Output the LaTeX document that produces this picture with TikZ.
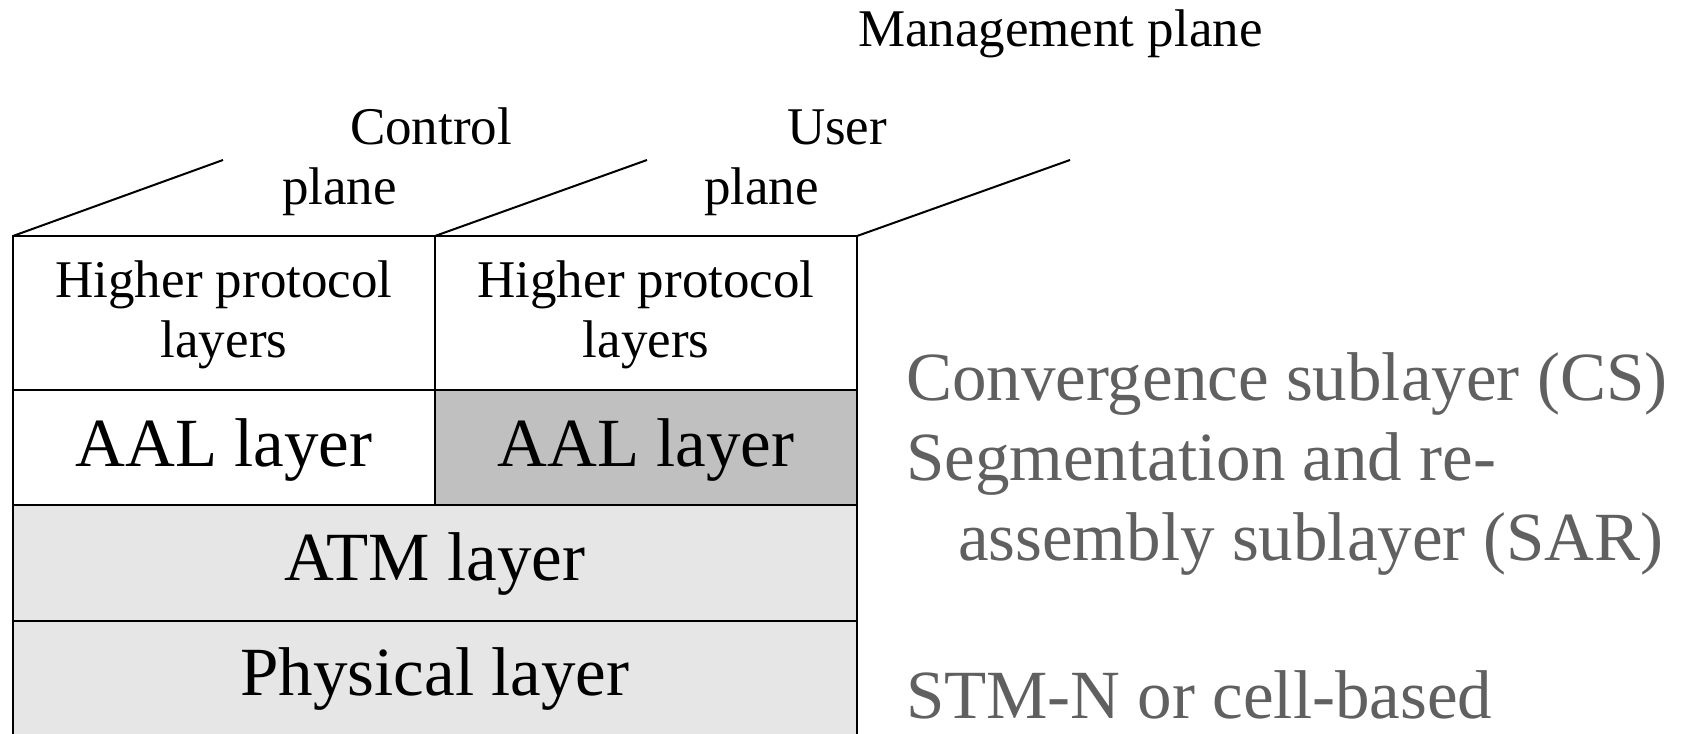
\documentclass[tikz,border=0pt]{standalone}
\usepackage{fontspec}
\setmainfont{Liberation Serif}
\definecolor{graytxt}{HTML}{606060}
\definecolor{aalfill}{HTML}{C0C0C0}
\definecolor{lowfill}{HTML}{E6E6E6}
\begin{document}
\begin{tikzpicture}[x=0.5pt,y=-0.5pt,line width=1pt,
  cell/.style={draw=black,line width=1pt,inner sep=0pt,outer sep=0pt},
  small/.style={inner sep=0pt,anchor=base,font=\fontsize{26.5}{31}\selectfont},
  smallw/.style={inner sep=0pt,anchor=base west,font=\fontsize{26.5}{31}\selectfont},
  big/.style={inner sep=0pt,anchor=base,font=\fontsize{34.5}{40}\selectfont},
  side/.style={inner sep=0pt,anchor=base west,text=graytxt,font=\fontsize{34.5}{40}\selectfont}]
\useasboundingbox (0,0) rectangle (1684,733);
\clip (0,0) rectangle (1684,733);
% cells
\node[cell,minimum width=211pt,minimum height=77pt] (hc) at (224,313) {};
\node[cell,minimum width=211pt,minimum height=77pt] (hu) at (646,313) {};
\node[cell,minimum width=211pt,minimum height=57.5pt] (ac) at (224,447.5) {};
\node[cell,fill=aalfill,minimum width=211pt,minimum height=57.5pt] (au) at (646,447.5) {};
\node[cell,fill=lowfill,minimum width=422pt,minimum height=58pt] (atm) at (435,563) {};
\node[cell,fill=lowfill,minimum width=422pt,minimum height=75pt] (phy) at (435,696) {};
% perspective lines
\coordinate (d1) at (223,160);
\coordinate (d2) at (647,160);
\coordinate (d3) at (1070,160);
\draw (hc.north west) -- (d1);
\draw (hu.north west) -- (d2);
\draw (hu.north east) -- (d3);
% texts in cells
\node[small] (hct1) at (224,297) {Higher protocol};
\node[small] (hct2) at (224,357) {layers};
\node[small] (hut1) at (646,297) {Higher protocol};
\node[small] (hut2) at (646,357) {layers};
\node[big] (act) at (224,466) {AAL layer};
\node[big] (aut) at (646,466) {AAL layer};
\node[big] (atmt) at (435,580) {ATM layer};
\node[big] (phyt) at (435,695) {Physical layer};
% plane labels
\node[smallw] (mp) at (857,47) {Management plane};
\node[smallw] (cp1) at (349,144) {Control};
\node[smallw] (cp2) at (281,204) {plane};
\node[smallw] (up1) at (786,144) {User};
\node[smallw] (up2) at (703,204) {plane};
% side texts
\node[side] (cs) at (905,400) {Convergence sublayer (CS)};
\node[side] (sar1) at (905,480) {Segmentation and re-};
\node[side] (sar2) at (957,560) {assembly sublayer (SAR)};
\node[side] (stm) at (905,718) {STM-N or cell-based};
\end{tikzpicture}
\end{document}
